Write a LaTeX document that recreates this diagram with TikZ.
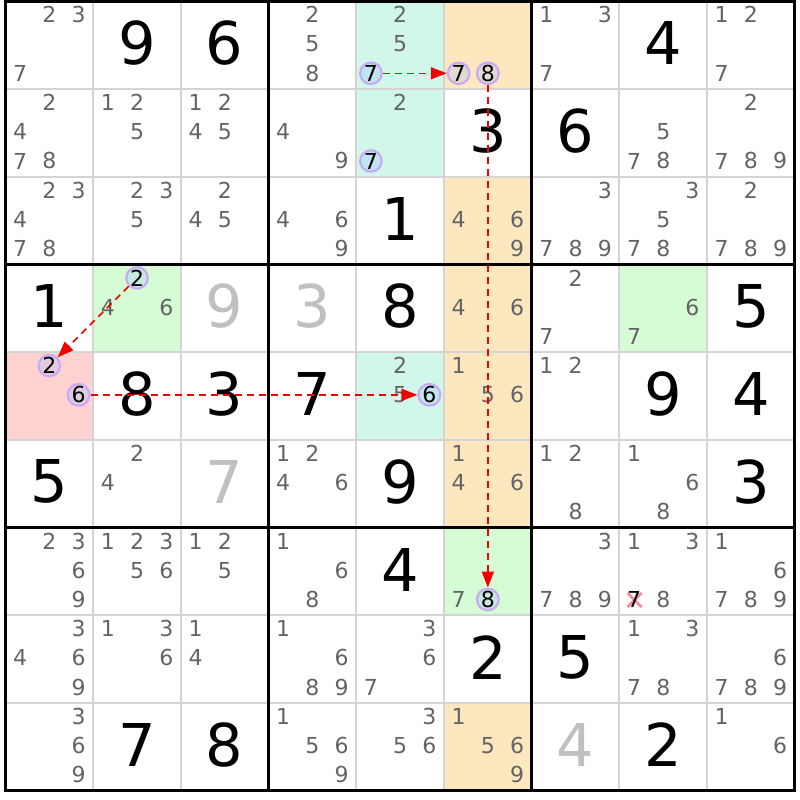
\documentclass[tikz,border=0pt]{standalone}
\usepackage{fontspec}
\setmainfont{DejaVu Sans}
\usetikzlibrary{arrows.meta}
\definecolor{candgray}{RGB}{100,100,100}
\definecolor{givengray}{RGB}{192,192,192}
\definecolor{thinline}{RGB}{212,212,212}
\definecolor{mint}{RGB}{208,247,234}
\definecolor{peach}{RGB}{253,231,191}
\definecolor{lgreen}{RGB}{213,252,213}
\definecolor{lred}{RGB}{255,210,210}
\definecolor{ringcol}{RGB}{200,170,245}
\definecolor{ringfill}{RGB}{160,190,255}
\definecolor{arrowred}{RGB}{240,0,0}
\definecolor{crosscol}{RGB}{245,140,150}
\newcommand\cellsz{87.7}
\newcommand\subsz{29.233}
\newcommand\gx{5.5}
\newcommand\gy{1.5}
\newcommand\setcandpos[3]{%
  \pgfmathsetmacro\cpX{\gx+(#2-1)*\cellsz+(mod(#3-1,3)+0.5)*\subsz}%
  \pgfmathsetmacro\cpY{\gy+(#1-1)*\cellsz+(floor((#3-1)/3)+0.5)*\subsz-1.3}%
}
\newcommand\setcellpos[2]{%
  \pgfmathsetmacro\cpX{\gx+(#2-1)*\cellsz}%
  \pgfmathsetmacro\cpY{\gy+(#1-1)*\cellsz}%
}
\tikzset{
  cand/.style={font=\fontsize{22}{22}\selectfont, text=candgray, inner sep=0pt},
  given/.style={font=\fontsize{59}{59}\selectfont, text=black, inner sep=0pt},
  givengrey/.style={given, text=givengray},
  ring/.style={circle, draw=ringcol, line width=2.2pt, fill=ringfill, fill opacity=0.3,
    text opacity=1, text=black, minimum size=21.5pt, inner sep=0pt,
    font=\fontsize{22}{22}\selectfont},
  link/.style={draw=arrowred, line width=1.5pt, dash pattern=on 7pt off 5pt,
    -{Triangle[length=16pt,width=12pt]}},
  crossline/.style={draw=crosscol, line width=2.6pt},
  thingrid/.style={draw=thinline, line width=2pt},
  thickgrid/.style={draw=black, line width=3pt, line cap=rect}
}
\begin{document}
\begin{tikzpicture}[x=1pt,y=-1pt]
\useasboundingbox (0,0) rectangle (800,800);
\fill[white] (0,0) rectangle (800,800);
% cell backgrounds
\foreach \r/\c/\col in {1/5/mint,2/5/mint,5/5/mint,
  1/6/peach,3/6/peach,4/6/peach,5/6/peach,6/6/peach,9/6/peach,
  4/2/lgreen,4/8/lgreen,7/6/lgreen,5/1/lred}{
  \setcellpos{\r}{\c}
  \fill[\col] (\cpX,\cpY) rectangle ++(\cellsz,\cellsz);
}
% thin grid
\foreach \i in {1,2,4,5,7,8}{
  \pgfmathsetmacro\cpX{\gx+\i*\cellsz}
  \pgfmathsetmacro\cpY{\gy+\i*\cellsz}
  \draw[thingrid] (\cpX,\gy) -- ++(0,9*\cellsz);
  \draw[thingrid] (\gx,\cpY) -- ++(9*\cellsz,0);
}
% thick grid
\foreach \i in {0,3,6,9}{
  \pgfmathsetmacro\cpX{\gx+\i*\cellsz}
  \pgfmathsetmacro\cpY{\gy+\i*\cellsz}
  \draw[thickgrid] (\cpX,\gy) -- ++(0,9*\cellsz);
  \draw[thickgrid] (\gx,\cpY) -- ++(9*\cellsz,0);
}
% given digits
\foreach \r/\c/\d in {1/2/9,1/3/6,1/8/4,2/6/3,2/7/6,3/5/1,4/1/1,4/5/8,4/9/5,
  5/2/8,5/3/3,5/4/7,5/8/9,5/9/4,6/1/5,6/5/9,6/9/3,7/5/4,8/6/2,8/7/5,
  9/2/7,9/3/8,9/8/2}{
  \pgfmathsetmacro\cpX{\gx+(\c-0.5)*\cellsz}
  \pgfmathsetmacro\cpY{\gy+(\r-0.5)*\cellsz-2}
  \node[given] (g\r\c) at (\cpX,\cpY) {\d};
}
\foreach \r/\c/\d in {4/3/9,4/4/3,6/3/7,9/7/4}{
  \pgfmathsetmacro\cpX{\gx+(\c-0.5)*\cellsz}
  \pgfmathsetmacro\cpY{\gy+(\r-0.5)*\cellsz-2}
  \node[givengrey] (g\r\c) at (\cpX,\cpY) {\d};
}
% candidates
\foreach \r/\c/\l in {1/1/{2,3,7},1/4/{2,5,8},1/5/{2,5},1/7/{1,3,7},1/9/{1,2,7},
  2/1/{2,4,7,8},2/2/{1,2,5},2/3/{1,2,4,5},2/4/{4,9},2/5/{2},2/8/{5,7,8},2/9/{2,7,8,9},
  3/1/{2,3,4,7,8},3/2/{2,3,5},3/3/{2,4,5},3/4/{4,6,9},3/6/{4,6,9},3/7/{3,7,8,9},3/8/{3,5,7,8},3/9/{2,7,8,9},
  4/2/{4,6},4/6/{4,6},4/7/{2,7},4/8/{6,7},
  5/5/{2,5},5/6/{1,5,6},5/7/{1,2},
  6/2/{2,4},6/4/{1,2,4,6},6/6/{1,4,6},6/7/{1,2,8},6/8/{1,6,8},
  7/1/{2,3,6,9},7/2/{1,2,3,5,6},7/3/{1,2,5},7/4/{1,6,8},7/6/{7},7/7/{3,7,8,9},7/8/{1,3,8},7/9/{1,6,7,8,9},
  8/1/{3,4,6,9},8/2/{1,3,6},8/3/{1,4},8/4/{1,6,8,9},8/5/{3,6,7},8/8/{1,3,7,8},8/9/{6,7,8,9},
  9/1/{3,6,9},9/4/{1,5,6,9},9/5/{3,5,6},9/6/{1,5,6,9},9/9/{1,6}}{
  \foreach \d in \l {
    \setcandpos{\r}{\c}{\d}
    \node[cand] (k\r\c\d) at (\cpX,\cpY) {\d};
  }
}
% eliminated candidate
\setcandpos{7}{8}{7}
\draw[crossline] (\cpX-6.5,\cpY-6.5) -- (\cpX+7.5,\cpY+7.5);
\draw[crossline] (\cpX+7.5,\cpY-6.5) -- (\cpX-6.5,\cpY+7.5);
\node[cand, text=black] (k787) at (\cpX,\cpY) {7};
% circled candidates
\setcandpos{1}{5}{7} \node[ring] (a) at (\cpX,\cpY) {7};
\setcandpos{2}{5}{7} \node[ring] (b) at (\cpX,\cpY) {7};
\setcandpos{1}{6}{7} \node[ring] (c) at (\cpX,\cpY) {7};
\setcandpos{1}{6}{8} \node[ring] (d) at (\cpX,\cpY) {8};
\setcandpos{4}{2}{2} \node[ring] (e) at (\cpX,\cpY) {2};
\setcandpos{5}{1}{2} \node[ring] (f) at (\cpX,\cpY) {2};
\setcandpos{5}{1}{6} \node[ring] (g) at (\cpX,\cpY) {6};
\setcandpos{5}{5}{6} \node[ring] (h) at (\cpX,\cpY) {6};
\setcandpos{7}{6}{8} \node[ring] (i) at (\cpX,\cpY) {8};
% links
\draw[link] (a) -- (c);
\draw[link] (d) -- (i);
\draw[link] (e) -- (f);
\draw[link] (g) -- (h);
\end{tikzpicture}
\end{document}
